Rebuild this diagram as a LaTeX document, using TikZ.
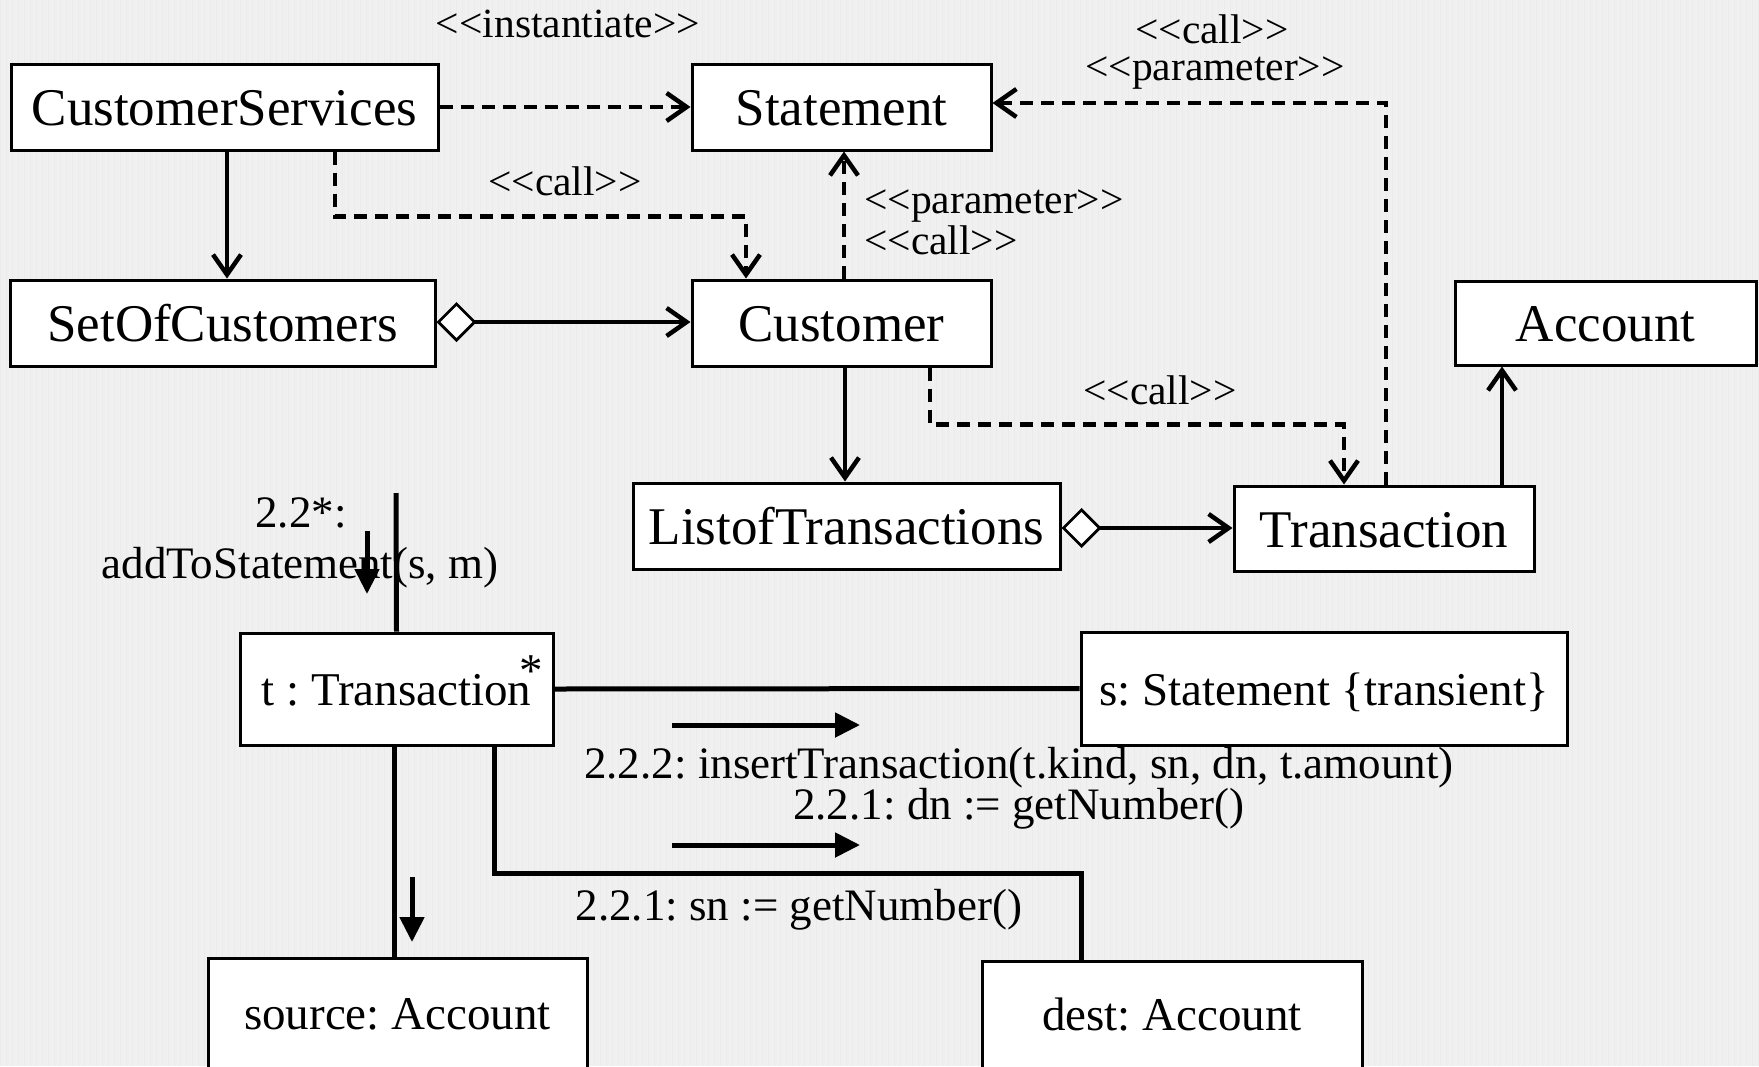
\documentclass[tikz,border=0pt]{standalone}
\usepackage{fontspec}
\setmainfont{Liberation Serif}
\usetikzlibrary{arrows.meta}
\definecolor{paper}{RGB}{240,240,240}
\definecolor{gridc}{RGB}{235,235,235}
\frenchspacing
% stereotype brackets written as plain angle characters
\newcommand{\stype}[1]{<{}<#1>{}>}
\begin{document}
\begin{tikzpicture}[x=1pt,y=-1pt,
  cls/.style={draw, line width=3pt, fill=white, inner sep=0pt,
    text height=37pt, text depth=0pt, font=\fontsize{53}{60}\selectfont},
  obj/.style={draw, line width=3pt, fill=white, inner sep=0pt,
    text height=33pt, text depth=0pt, font=\fontsize{47}{54}\selectfont},
  stereo/.style={inner sep=0pt, anchor=base, font=\fontsize{41.5}{46}\selectfont},
  msg/.style={inner sep=0pt, anchor=base, font=\fontsize{45}{50}\selectfont},
  dep/.style={line width=4.5pt, dash pattern=on 13pt off 8pt,
    -{Straight Barb[length=20pt,width=28pt]}},
  assoc/.style={line width=4.5pt, -{Straight Barb[length=20pt,width=28pt]}},
  aggr/.style={line width=4.5pt,
    {Diamond[fill=white,length=40pt,width=40pt,line width=2.8pt]}-{Straight Barb[length=20pt,width=28pt]}},
  link/.style={line width=5pt},
  flow/.style={line width=5pt, -{Triangle[length=25pt,width=24pt]}},
]
% page and faint grid paper
\useasboundingbox (0,0) rectangle (1759,1066);
\fill[paper] (0,0) rectangle (1759,1066);
\draw[gridc, line width=0.5pt, step=6] (0,0) grid (1759,1066);

% ---------- class diagram ----------
\node[cls, minimum width=427pt, minimum height=86pt] (cs)    at (224.5,107) {CustomerServices};
\node[cls, minimum width=299pt, minimum height=86pt] (stmt)  at (841.5,107) {Statement};
\node[cls, minimum width=425pt, minimum height=86pt] (soc)   at (222.5,323) {SetOfCustomers};
\node[cls, minimum width=299pt, minimum height=86pt] (cust)  at (841.5,323) {Customer};
\node[cls, minimum width=301pt, minimum height=84pt] (acc)   at (1605.5,323) {Account};
\node[cls, minimum width=427pt, minimum height=86pt] (lot)   at (846.5,526) {ListofTransactions};
\node[cls, minimum width=300pt, minimum height=85pt] (trans) at (1384,528.5) {Transaction};

\node[stereo] (lInst)  at (568,37)  {\stype{instantiate}};
\node[stereo] (lCall1) at (565,195) {\stype{call}};
\node[stereo, anchor=base west] (lPar1)  at (864,213.5) {\stype{parameter}};
\node[stereo, anchor=base west] (lCall2) at (864,254.5) {\stype{call}};
\node[stereo] (lCall3) at (1212,43) {\stype{call}};
\node[stereo] (lPar2)  at (1215,80) {\stype{parameter}};
\node[stereo] (lCall4) at (1160,404) {\stype{call}};

\draw[dep] (cs.east) -- (stmt.west);
\draw[assoc] ([xshift=2.5pt]cs.south) -- ([xshift=4.5pt]soc.north);
\draw[dep] ([xshift=110.5pt]cs.south) -- ++(0,65) -| ([xshift=-95.5pt]cust.north);
\draw[dep] ([xshift=2.5pt]cust.north) -- ([xshift=2.5pt]stmt.south);
\draw[aggr] ([yshift=1pt]soc.east) -- ([yshift=1pt]cust.west);
\draw[assoc] ([xshift=3.5pt]cust.south) -- ([xshift=-1.5pt]lot.north);
\draw[dep] ([xshift=88.5pt]cust.south) -- ++(0,57) -| ([xshift=-40pt]trans.north);
\draw[dep] ([xshift=2pt]trans.north) |- ([yshift=4pt]stmt.east);
\draw[aggr] ([yshift=-2pt]lot.east) -- ([yshift=0.5pt]trans.west);
\draw[assoc] ([xshift=118pt]trans.north) -- ([xshift=-103.5pt]acc.south);

% ---------- collaboration diagram ----------
\node[obj, minimum width=313pt, minimum height=112pt] (t) at (396.5,689) {t : Transaction};
\node[inner sep=0pt, anchor=base, font=\fontsize{47}{50}\selectfont] (star) at (531,686) {*};
\node[obj, minimum width=486pt, minimum height=113pt] (s) at (1324,688.5) {s: Statement \{transient\}};
\node[obj, minimum width=379pt, minimum height=130pt, text depth=19.8pt] (src) at (397.5,1023) {source: Account};
\node[obj, minimum width=380pt, minimum height=130pt, text depth=25pt] (dst) at (1172,1026) {dest: Account};

\node[msg] (m22a) at (301,527) {2.2*:};
\node[msg] (m22b) at (300,578) {addToStatement(s, m)};
\node[msg] (m222) at (1019,778) {2.2.2: insertTransaction(t.kind, sn, dn, t.amount)};
\node[msg] (m221d) at (1019,819) {2.2.1: dn := getNumber()};
\node[msg] (m221s) at (799,920) {2.2.1: sn := getNumber()};

\coordinate (entry) at (396,493);
\draw[link] (entry) -- (t.north);
\draw[link] (t.east) -- (s.west);
\draw[link] ([xshift=97.5pt]t.south) -- ++(0,127) -| ([xshift=-91pt]dst.north);
\draw[link] ([xshift=-2.5pt]t.south) -- ([xshift=-3.5pt]src.north);

% message direction arrows
\draw[flow] (367,531) -- (367,594);
\draw[flow] (672,725) -- (860,725);
\draw[flow] (672,845) -- (860,845);
\draw[flow] (412,877) -- (412,942);
\end{tikzpicture}
\end{document}
